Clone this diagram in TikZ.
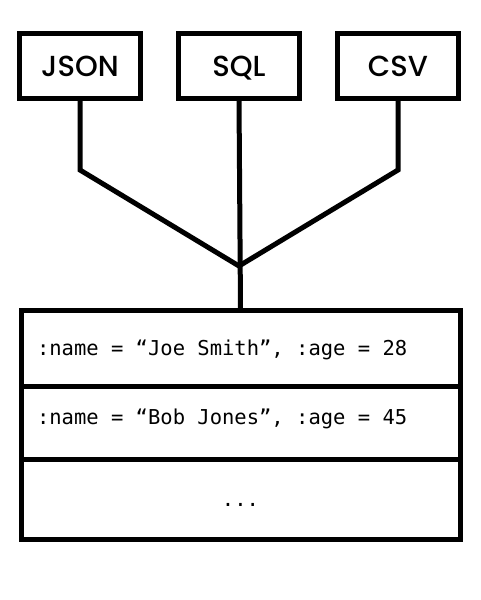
\documentclass[tikz,border=0pt]{standalone}
\usepackage{fontspec}
\setmonofont{DejaVu Sans Mono}
\newfontfamily\srcfont{Poppins}[UprightFont=* Medium]
\usetikzlibrary{positioning}
\newcommand\fieldline[1]{\makebox[407pt][l]{#1}}

\begin{document}
\begin{tikzpicture}[
      x=1pt,y=-1pt,line width=5pt,node distance=38pt,
      source/.style={draw,outer sep=0pt,inner sep=0pt,minimum width=121pt,minimum height=65pt,
          text height=20pt,text depth=0pt,font=\srcfont\fontsize{29}{29}\selectfont},
      record/.style={draw,outer sep=0pt,inner sep=0pt,minimum width=439pt,
          text height=14pt,text depth=0pt,font=\ttfamily\fontsize{20.5}{24}\selectfont}
      ]
      \useasboundingbox (0,0) rectangle (480,600);
      \node[source]                   (sql)  at (239,66)         {SQL};
      \node[source,left=of sql]       (json)                     {JSON};
      \node[source,right=of sql]      (csv)                      {CSV};
      \coordinate (split) at (239,170);
      \coordinate (hub)   at (239,266);

      \node[record,minimum height=76.5pt] (joe) at (240.5,348.25) {\fieldline{:name = “Joe Smith”, :age = 28}};
      \node[record,minimum height=73pt,text depth=12pt,below=0pt of joe] (bob) {\fieldline{:name = “Bob Jones”, :age = 45}};
      \node[record,minimum height=80pt,text height=13pt,below=0pt of bob] (more) {...};

      \draw (json.south) -- (json.south |- split) -- (hub);
      \draw (csv.south) -- (csv.south |- split) -- (hub);
      \draw (sql.south) -- (joe.north);
    \end{tikzpicture}
\end{document}
